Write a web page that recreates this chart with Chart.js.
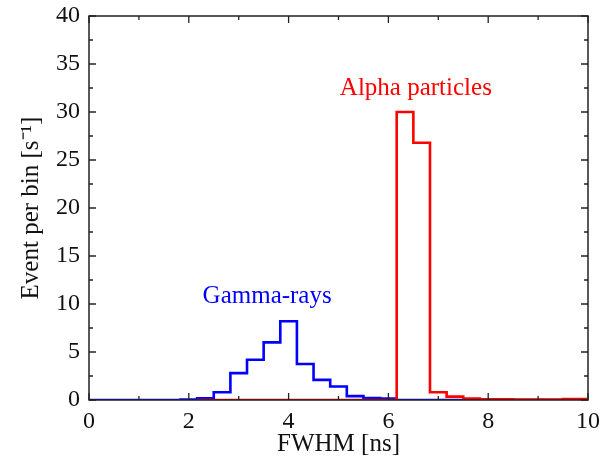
<!DOCTYPE html>
<html lang="en">
<head>
  <meta charset="UTF-8" />
  <title>FWHM distribution</title>
  <script src="https://cdn.jsdelivr.net/npm/chart.js"></script>
  <style>
    html, body { margin: 0; padding: 0; background: #fff; }
    #fwhmChart { display: block; }
  </style>
</head>
<body>
  <canvas id="fwhmChart" width="612" height="461"></canvas>

  <script>
    // Bin centres (ns), bins are 1/3 ns wide
    const binCenters = [0, 0.333, 0.667, 1, 1.333, 1.667, 2, 2.333, 2.667, 3, 3.333, 3.667, 4, 4.333, 4.667,
      5, 5.333, 5.667, 6, 6.333, 6.667, 7, 7.333, 7.667, 8, 8.333, 8.667, 9, 9.333, 9.667, 10];
    const gammaRate = [0, 0, 0, 0, 0, 0, 0.05, 0.18, 0.8, 2.8, 4.2, 6.0, 8.2, 3.75, 2.1,
      1.4, 0.4, 0.2, 0.15, 0, 0, 0, 0, 0, 0, 0, 0, 0, 0, 0, 0];

    const alphaCenters = [2.167, 2.333, 2.667, 3, 3.333, 3.667, 4, 4.333, 4.667, 5, 5.333, 5.667, 6,
      6.333, 6.667, 7, 7.333, 7.667, 8, 8.333, 8.667, 9, 9.333, 9.667, 10];
    const alphaRate = [0, 0, 0, 0, 0, 0, 0, 0, 0, 0, 0, 0, 0,
      30, 26.8, 0.8, 0.35, 0.15, 0.08, 0.06, 0.05, 0.05, 0.05, 0.1, 0.1];

    const xTicks = [0, 2, 4, 6, 8, 10];
    const yTicks = [0, 5, 10, 15, 20, 25, 30, 35, 40];

    const labels = [
      { text: 'Gamma-rays', x: 3.57, y: 10.8, color: '#0000ff' },
      { text: 'Alpha particles', x: 6.55, y: 32.5, color: '#ff0000' }
    ];

    const serif = "'Liberation Serif', 'Times New Roman', serif";

    function toPoints(xs, ys) {
      return xs.map((x, i) => ({ x: x, y: ys[i] }));
    }

    // box frame with inward ticks on all four sides, plus the text labels
    const framePlugin = {
      id: 'frame',
      afterDraw(chart) {
        const ctx = chart.ctx;
        const a = chart.chartArea;
        const xs = chart.scales.x;
        const ys = chart.scales.y;
        ctx.save();
        ctx.strokeStyle = '#222';
        ctx.lineWidth = 1.5;
        ctx.strokeRect(a.left, a.top, a.right - a.left, a.bottom - a.top);

        ctx.lineWidth = 1.3;
        ctx.beginPath();
        for (let v = 0; v <= 10; v += 1) {
          const px = xs.getPixelForValue(v);
          const len = v % 2 === 0 ? 7 : 4;
          ctx.moveTo(px, a.bottom); ctx.lineTo(px, a.bottom - len);
          ctx.moveTo(px, a.top); ctx.lineTo(px, a.top + len);
        }
        for (let v = 0; v <= 40; v += 2.5) {
          const py = ys.getPixelForValue(v);
          const len = v % 5 === 0 ? 7 : 4;
          ctx.moveTo(a.left, py); ctx.lineTo(a.left + len, py);
          ctx.moveTo(a.right, py); ctx.lineTo(a.right - len, py);
        }
        ctx.stroke();

        ctx.font = '25px ' + serif;
        ctx.textAlign = 'center';
        ctx.textBaseline = 'middle';
        labels.forEach(l => {
          ctx.fillStyle = l.color;
          ctx.fillText(l.text, xs.getPixelForValue(l.x), ys.getPixelForValue(l.y));
        });
        ctx.restore();
      }
    };

    const ctx = document.getElementById('fwhmChart').getContext('2d');
    new Chart(ctx, {
      type: 'line',
      data: {
        datasets: [
          {
            label: 'Alpha particles',
            data: toPoints(alphaCenters, alphaRate),
            borderColor: '#ff0000',
            borderWidth: 2.6,
            stepped: 'middle',
            pointRadius: 0,
            fill: false,
            order: 0
          },
          {
            label: 'Gamma-rays',
            data: toPoints(binCenters, gammaRate),
            borderColor: '#0000ff',
            borderWidth: 2.6,
            stepped: 'middle',
            pointRadius: 0,
            fill: false,
            order: 1
          }
        ]
      },
      options: {
        responsive: false,
        animation: false,
        layout: { padding: { top: 16, right: 24, left: 0, bottom: 0 } },
        plugins: {
          legend: { display: false },
          tooltip: { enabled: false }
        },
        scales: {
          x: {
            type: 'linear',
            min: 0,
            max: 10,
            afterBuildTicks: scale => { scale.ticks = xTicks.map(v => ({ value: v })); },
            afterFit: scale => {
              scale.height = 61;
              scale.paddingLeft = 0;
              scale.paddingRight = 0;
            },
            grid: { display: false, drawTicks: false },
            border: { display: false },
            ticks: {
              color: '#111',
              font: { family: serif, size: 24 },
              padding: 7,
              maxRotation: 0
            },
            title: {
              display: true,
              text: 'FWHM [ns]',
              color: '#111',
              font: { family: serif, size: 25 },
              padding: { top: 0, bottom: 2 }
            }
          },
          y: {
            type: 'linear',
            min: 0,
            max: 40,
            afterBuildTicks: scale => { scale.ticks = yTicks.map(v => ({ value: v })); },
            afterFit: scale => {
              scale.width = 89;
              scale.paddingTop = 0;
              scale.paddingBottom = 0;
            },
            grid: { display: false, drawTicks: false },
            border: { display: false },
            ticks: {
              color: '#111',
              font: { family: serif, size: 24 },
              padding: 9
            },
            title: {
              display: true,
              text: 'Event per bin [s⁻¹]',
              color: '#111',
              font: { family: serif, size: 25 },
              padding: { top: 16, bottom: 0 }
            }
          }
        }
      },
      plugins: [framePlugin]
    });
  </script>
</body>
</html>
